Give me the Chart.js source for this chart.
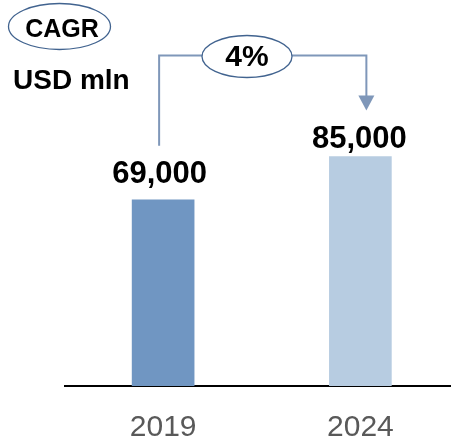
<!DOCTYPE html>
<html>
<head>
<meta charset="utf-8">
<script src="https://cdn.jsdelivr.net/npm/chart.js@4"></script>
<style>
  html, body { margin: 0; padding: 0; background: #fff; overflow: hidden; }
  #wrap { width: 451px; height: 441px; overflow: hidden; }
</style>
</head>
<body>
<div id="wrap"><canvas id="chart" width="459" height="469"></canvas></div>
<script>
const years = ['2019', '2024']
const marketSize = [69000, 85000]
const valueLabels = ['69,000', '85,000']
const barColors = ['#7096c2', '#b7cce1']
const cagrText = '4%'
const unitText = 'USD mln'

const FONT = 'Liberation Sans, Arial, sans-serif'

// ellipses, connector arrow and value labels
const annotations = {
  id: 'annotations',
  afterDraw(chart) {
    const ctx = chart.ctx
    const bars = chart.getDatasetMeta(0).data
    const b1 = bars[0]
    const b2 = bars[1]

    ctx.save()

    // value labels over the bars
    ctx.fillStyle = '#000'
    ctx.font = 'bold 31px ' + FONT
    ctx.textAlign = 'center'
    ctx.textBaseline = 'alphabetic'
    ctx.fillText(valueLabels[0], b1.x - 3.5, b1.y - 17)
    ctx.fillText(valueLabels[1], b2.x - 1, b2.y - 9)

    // connector
    const lx = b1.x - 4
    const rx = b2.x + 6
    const topY = 55.5
    ctx.strokeStyle = '#7f97b9'
    ctx.lineWidth = 2
    ctx.beginPath()
    ctx.moveTo(lx, b1.y - 54)
    ctx.lineTo(lx, topY)
    ctx.lineTo(rx, topY)
    ctx.lineTo(rx, b2.y - 58)
    ctx.stroke()
    ctx.fillStyle = '#7f97b9'
    ctx.beginPath()
    ctx.moveTo(rx - 8, b2.y - 61)
    ctx.lineTo(rx + 8, b2.y - 61)
    ctx.lineTo(rx, b2.y - 46)
    ctx.closePath()
    ctx.fill()

    // CAGR bubble on the connector
    ctx.fillStyle = '#fff'
    ctx.strokeStyle = '#41638f'
    ctx.lineWidth = 1.3
    ctx.beginPath()
    ctx.ellipse(247, 56.5, 45, 21, 0, 0, Math.PI * 2)
    ctx.fill()
    ctx.stroke()
    ctx.fillStyle = '#000'
    ctx.font = 'bold 30px ' + FONT
    ctx.textBaseline = 'middle'
    ctx.fillText(cagrText, 247, 58)

    // CAGR legend bubble
    ctx.fillStyle = '#fff'
    ctx.beginPath()
    ctx.ellipse(59.5, 26.5, 51, 23, 0, 0, Math.PI * 2)
    ctx.fill()
    ctx.stroke()
    ctx.fillStyle = '#000'
    ctx.font = 'bold 25px ' + FONT
    ctx.fillText('CAGR', 62, 30)

    // unit
    ctx.textAlign = 'left'
    ctx.textBaseline = 'alphabetic'
    ctx.font = 'bold 28px ' + FONT
    ctx.fillText(unitText, 13, 89)

    ctx.restore()
  },
}

new Chart(document.getElementById('chart'), {
  type: 'bar',
  data: {
    labels: years,
    datasets: [
      {
        data: marketSize,
        backgroundColor: barColors,
        barThickness: 62,
      },
    ],
  },
  options: {
    responsive: false,
    animation: false,
    layout: { padding: { left: 64.5, right: 0, top: 0, bottom: 0 } },
    plugins: {
      legend: { display: false },
      tooltip: { enabled: false },
    },
    scales: {
      x: {
        grid: { display: false, drawTicks: false },
        border: { display: true, color: '#000', width: 2 },
        ticks: {
          color: '#595959',
          padding: 23.5,
          font: { family: FONT, size: 30 },
        },
      },
      y: {
        display: false,
        min: 0,
        max: 143000,
      },
    },
  },
  plugins: [annotations],
})
</script>
</body>
</html>
